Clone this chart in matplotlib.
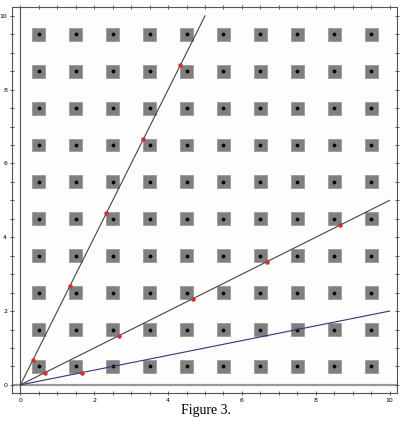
import numpy as np
import matplotlib.pyplot as plt
from matplotlib.patches import Rectangle

# grid of square cells (centres)
cell_x = [0.5, 1.5, 2.5, 3.5, 4.5, 5.5, 6.5, 7.5, 8.5, 9.5]
cell_y = [0.5, 1.5, 2.5, 3.5, 4.5, 5.5, 6.5, 7.5, 8.5, 9.5]
cell_size = 0.35

# lines through the origin: slope and end x
slopes = [2.0, 0.5, 0.2]
line_end_x = [5.0, 10.0, 10.0]
line_colors = ['#444444', '#444444', '#33337a']

# red points on the lines
red_x_steep = [0.33, 1.33, 2.33, 3.33, 4.33]
red_y_steep = [0.67, 2.67, 4.67, 6.67, 8.67]
red_x_mid = [0.67, 2.67, 4.67, 6.67, 8.67]
red_y_mid = [0.33, 1.33, 2.33, 3.33, 4.33]
red_x_low = [1.67]
red_y_low = [0.33]

fig = plt.figure(figsize=(4.12, 4.25), dpi=100)
ax = fig.add_axes([0.029, 0.0753, 0.9345, 0.9082])
ax.set_facecolor('#fdfdfd')

for cx in cell_x:
    for cy in cell_y:
        ax.add_patch(Rectangle((cx - cell_size / 2, cy - cell_size / 2), cell_size, cell_size,
                               facecolor='#7f7f7f', edgecolor='#9a9a9a', linewidth=0.6, zorder=2))
gx, gy = np.meshgrid(cell_x, cell_y)
ax.scatter(gx.ravel(), gy.ravel(), s=3, color='black', zorder=3)

# axes lines
ax.axhline(0, color='#999999', linewidth=1.6, zorder=1)
ax.axvline(0, color='#555555', linewidth=0.8, zorder=1)

for m, xe, c in zip(slopes, line_end_x, line_colors):
    ax.plot([0, xe], [0, m * xe], color=c, linewidth=0.8, zorder=4)

ax.scatter(red_x_steep, red_y_steep, s=5, color='#d03030', zorder=5)
ax.scatter(red_x_mid, red_y_mid, s=5, color='#d03030', zorder=5)
ax.scatter(red_x_low, red_y_low, s=5, color='#d03030', zorder=5)

ax.set_xlim(-0.23, 10.2)
ax.set_ylim(-0.22, 10.24)

ax.set_xticks([0, 2, 4, 6, 8, 10])
ax.set_yticks([0, 2, 4, 6, 8, 10])
ax.set_xticks(np.arange(0, 10.01, 0.5), minor=True)
ax.set_yticks(np.arange(0, 10.01, 0.5), minor=True)
ax.tick_params(which='both', direction='inout', length=3, width=0.6, color='#444444',
               labelsize=4.5, top=True, right=True, pad=2)
ax.tick_params(which='minor', length=2.5)
for s in ax.spines.values():
    s.set_color('#555555')
    s.set_linewidth(0.8)

fig.text(0.5, 0.035, 'Figure 3.', ha='center', va='center',
         family='Liberation Serif', fontsize=10)

fig.savefig('out.png', dpi=100)
